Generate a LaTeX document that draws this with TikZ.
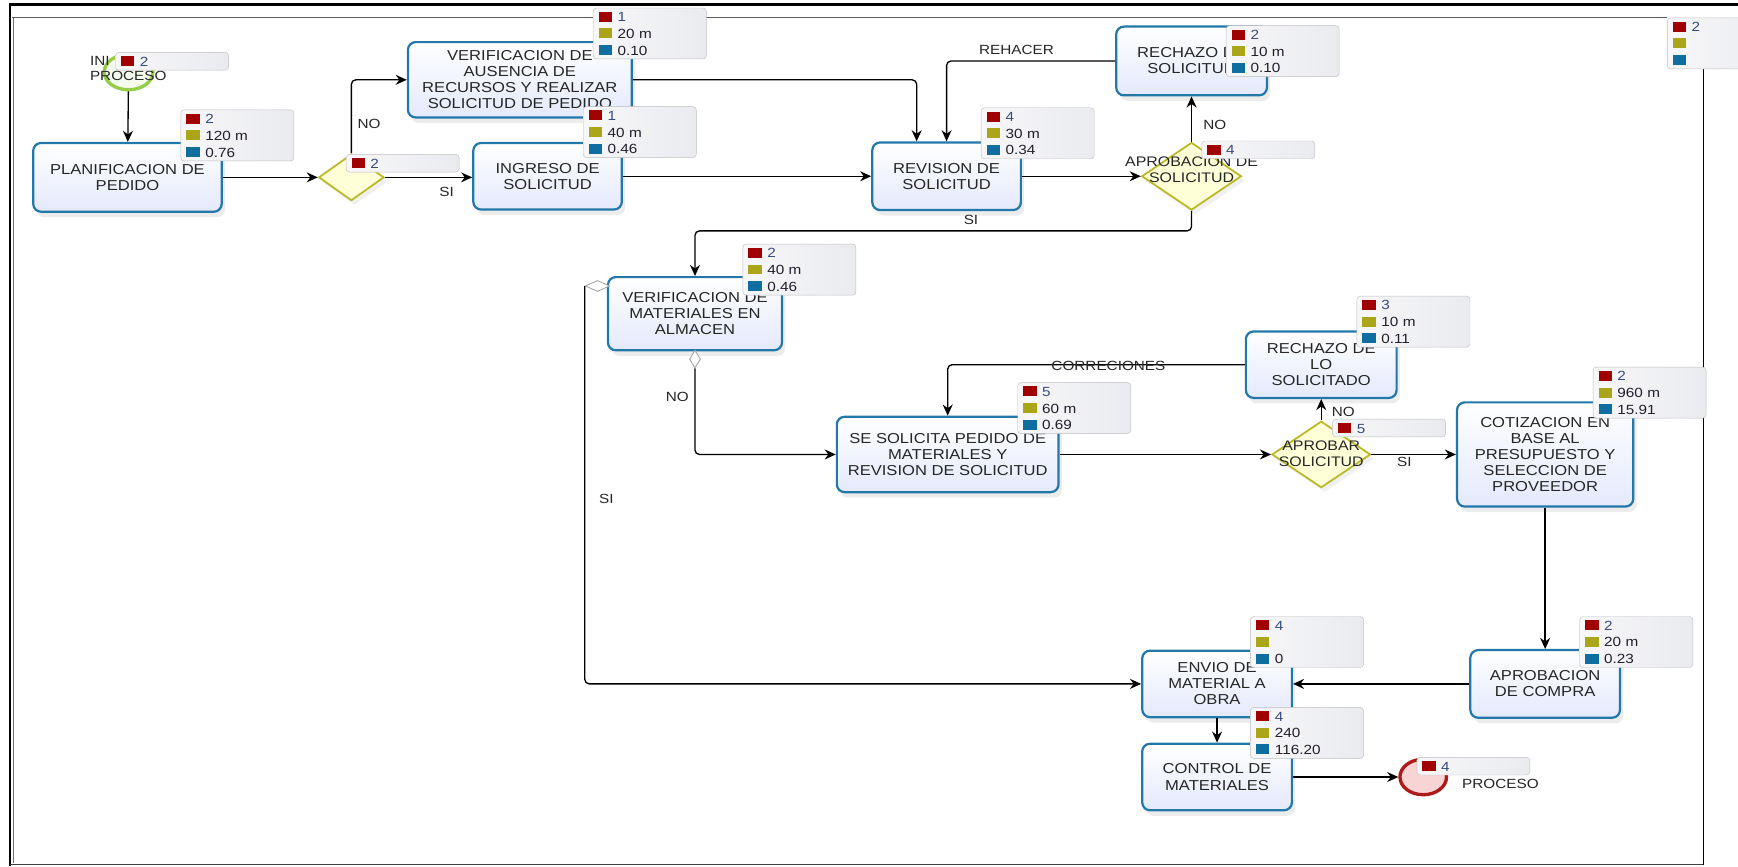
\documentclass[tikz,border=0pt]{standalone}
\usepackage{fontspec}
\setmainfont{Liberation Sans}[FakeStretch=1.15]
\usetikzlibrary{positioning, arrows.meta, shapes.geometric, shadows}

\definecolor{taskblue}{RGB}{35,120,170}
\definecolor{taskfill}{RGB}{228,233,252}
\definecolor{gateolive}{RGB}{185,185,40}
\definecolor{gatefill}{RGB}{255,255,215}
\definecolor{startgreen}{RGB}{150,205,70}
\definecolor{startfill}{RGB}{245,252,238}
\definecolor{endred}{RGB}{175,25,25}
\definecolor{endfill}{RGB}{248,212,212}
\definecolor{kred}{RGB}{160,0,0}
\definecolor{kolive}{RGB}{170,165,25}
\definecolor{kblue}{RGB}{15,110,160}
\definecolor{kpiborder}{RGB}{190,190,196}
\definecolor{kpileft}{RGB}{247,247,249}
\definecolor{kpiright}{RGB}{234,235,239}
\definecolor{kpinum}{RGB}{55,75,130}
\definecolor{kpitext}{RGB}{35,30,45}

% coloured squares of the KPI boxes
\newcommand{\kpisq}[1]{\textcolor{#1}{\rule{12pt}{9pt}}\hspace{5pt}}
\newcommand{\kpirows}[3]{\kpisq{kred}\textcolor{kpinum}{#1}\\\kpisq{kolive}#2\\\kpisq{kblue}#3}
\newcommand{\kpione}[1]{\kpisq{kred}\textcolor{kpinum}{#1}}

\begin{document}
\begin{tikzpicture}[
    x=1pt, y=-1pt,
    >={Stealth[length=10pt,width=9pt]},
    % Styles
    task/.style={% For activities
        rectangle,
        rounded corners=7pt,
        draw=taskblue,
        line width=2pt,
        top color=white,
        bottom color=taskfill,
        align=center,
        inner sep=2pt,
        text=black!85,
        font=\fontsize{13}{14.5}\selectfont,
        drop shadow={shadow xshift=3pt, shadow yshift=-5pt, opacity=.15},
    },
    gate/.style={% For decisions
        diamond,
        draw=gateolive,
        line width=1.6pt,
        fill=gatefill,
        inner sep=0pt,
        drop shadow={shadow xshift=3pt, shadow yshift=-4pt, opacity=.12},
    },
    condgate/.style={% Small white diamonds on flows
        diamond,
        draw=gray!70,
        line width=.8pt,
        fill=white,
        inner sep=0pt,
    },
    startev/.style={% Start event
        ellipse,
        draw=startgreen,
        line width=3pt,
        fill=startfill,
        minimum width=44pt,
        minimum height=32pt,
        inner sep=0pt,
    },
    endev/.style={% End event
        ellipse,
        draw=endred,
        line width=3pt,
        fill=endfill,
        minimum width=42pt,
        minimum height=32pt,
        inner sep=0pt,
    },
    kpibox/.style={% Grey boxes with indicators
        rectangle,
        rounded corners=3pt,
        draw=kpiborder,
        left color=kpileft,
        right color=kpiright,
        anchor=north west,
        align=left,
        text width=92pt,
        inner xsep=5pt,
        inner ysep=3pt,
        text=kpitext,
        font=\fontsize{12}{15}\selectfont,
    },
    lbl/.style={% Labels on flows and events
        font=\fontsize{12}{14}\selectfont,
        text=black!85,
        inner sep=0pt,
    },
    flow/.style={% Sequence flows
        ->,
        line width=1.2pt,
        rounded corners=4pt,
    },
    ]
    \useasboundingbox (0,0) rectangle (1568,782);
    \clip (0,0) rectangle (1568,782);

    % Frame
    \draw[line width=2.5pt] (9,4) -- (1568,4);
    \draw[line width=.9pt, black!65] (11,16) -- (1504,16);
    \draw[line width=2pt] (9,3) -- (9,781);
    \draw[line width=.7pt, black!55] (12,16) -- (12,779);
    \draw[line width=1.6pt, black!75] (9,780) -- (1537,780);
    \draw[line width=1.2pt] (1537,60) -- (1537,780);

    % Events
    \node[startev] (start) at (116,65) {};
    \node[lbl, anchor=west, align=left] (startlbl) at (81,62) {INI\\PROCESO};
    \node[endev] (fin) at (1284,701) {};
    \node[lbl, anchor=west] (finlbl) at (1319,707) {PROCESO};

    % Activities
    \node[task, minimum width=170pt, minimum height=62pt] (plan) at (115,160) {PLANIFICACION DE\\PEDIDO};
    \node[task, minimum width=202pt, minimum height=68pt] (verif) at (469,72) {VERIFICACION DE\\AUSENCIA DE\\RECURSOS Y REALIZAR\\SOLICITUD DE PEDIDO};
    \node[task, minimum width=134pt, minimum height=60pt] (ingreso) at (494,159) {INGRESO DE\\SOLICITUD};
    \node[task, minimum width=134pt, minimum height=61pt] (revision) at (854,159) {REVISION DE\\SOLICITUD};
    \node[task, minimum width=136pt, minimum height=62pt] (rechazo) at (1075,55) {RECHAZO DE\\SOLICITUD};
    \node[task, minimum width=157pt, minimum height=66pt] (vmat) at (627,283) {VERIFICACION DE\\MATERIALES EN\\ALMACEN};
    \node[task, minimum width=200pt, minimum height=68pt] (solped) at (855,410) {SE SOLICITA PEDIDO DE\\MATERIALES Y\\REVISION DE SOLICITUD};
    \node[task, minimum width=136pt, minimum height=60pt] (rechlo) at (1192,329) {RECHAZO DE\\LO\\SOLICITADO};
    \node[task, minimum width=159pt, minimum height=94pt] (cotiz) at (1394,410) {COTIZACION EN\\BASE AL\\PRESUPUESTO Y\\SELECCION DE\\PROVEEDOR};
    \node[task, minimum width=135pt, minimum height=61pt] (aprcomp) at (1394,617) {APROBACION\\DE COMPRA};
    \node[task, minimum width=135pt, minimum height=60pt] (envio) at (1098,617) {ENVIO DE\\MATERIAL A\\OBRA};
    \node[task, minimum width=135pt, minimum height=60pt] (control) at (1098,701) {CONTROL DE\\MATERIALES};

    % Decisions
    \node[gate, minimum width=59pt, minimum height=42pt] (gw1) at (317,160) {};
    \node[gate, minimum width=90pt, minimum height=61pt] (gw2) at (1075,159) {};
    \node[lbl, align=center, font=\fontsize{12.5}{14.5}\selectfont] (gw2lbl) at (1075,153) {APROBACION DE\\SOLICITUD};
    \node[gate, minimum width=89pt, minimum height=60pt] (gw3) at (1192,410) {};
    \node[lbl, align=center, font=\fontsize{12.5}{14.5}\selectfont] (gw3lbl) at (1192,409) {APROBAR\\SOLICITUD};
    \node[condgate, minimum width=22pt, minimum height=10pt] (mk1) at (539,258) {};
    \node[condgate, minimum width=10pt, minimum height=16pt] (mk2) at (627,324) {};

    % Flows
    \draw[flow] (start) -- (plan);
    \draw[flow] (plan) -- (gw1);
    \draw[flow] (gw1.north) |- (verif.west);
    \draw[flow] (gw1.east) -- (gw1.east -| ingreso.west);
    \draw[flow] (ingreso) -- (revision);
    \draw[flow] (verif.east) -| ([xshift=-27pt]revision.north);
    \draw[flow] (rechazo.west) -| (revision.north);
    \draw[flow] (revision) -- (gw2);
    \draw[flow] (gw2) -- (rechazo);
    \draw[flow] (gw2.south) -- ++(0,18) -| (vmat.north);
    \draw[flow] (mk1.west) |- (envio.west);
    \draw[flow] (mk2.south) |- (solped.west);
    \draw[flow] (rechlo.west) -| (solped.north);
    \draw[flow] (solped) -- (gw3);
    \draw[flow] (gw3) -- (rechlo);
    \draw[flow] (gw3) -- (cotiz);
    \draw[flow] (cotiz) -- (aprcomp);
    \draw[flow] (aprcomp) -- (envio);
    \draw[flow] (envio) -- (control);
    \draw[flow] (control) -- (fin);

    % Flow labels
    \node[lbl] (lno1) at (333,112) {NO};
    \node[lbl] (lsi1) at (403,173) {SI};
    \node[lbl] (lreh) at (917,45) {REHACER};
    \node[lbl] (lno2) at (1096,113) {NO};
    \node[lbl] (lsi2) at (876,198) {SI};
    \node[lbl] (lno3) at (611,358) {NO};
    \node[lbl] (lsi3) at (547,450) {SI};
    \node[lbl] (lcor) at (1000,330) {CORRECIONES};
    \node[lbl] (lno4) at (1212,372) {NO};
    \node[lbl] (lsi4) at (1267,417) {SI};

    % Indicator boxes
    \node[kpibox, minimum height=16pt] (kstart) at (104,47) {\kpione{2}};
    \node[kpibox, minimum height=46pt] (kplan) at (163,99) {\kpirows{2}{120 m}{0.76}};
    \node[kpibox, minimum height=16pt] (kgw1) at (312,139) {\kpione{2}};
    \node[kpibox, minimum height=46pt] (kverif) at (535,7) {\kpirows{1}{20 m}{0.10}};
    \node[kpibox, minimum height=46pt] (kingreso) at (526,96) {\kpirows{1}{40 m}{0.46}};
    \node[kpibox, minimum height=46pt] (krevision) at (885,97) {\kpirows{4}{30 m}{0.34}};
    \node[kpibox, minimum height=16pt] (kgw2) at (1084,127) {\kpione{4}};
    \node[kpibox, minimum height=46pt] (krechazo) at (1106,23) {\kpirows{2}{10 m}{0.10}};
    \node[kpibox, minimum height=46pt] (kvmat) at (670,220) {\kpirows{2}{40 m}{0.46}};
    \node[kpibox, minimum height=46pt] (ksolped) at (918,345) {\kpirows{5}{60 m}{0.69}};
    \node[kpibox, minimum height=46pt] (krechlo) at (1224,267) {\kpirows{3}{10 m}{0.11}};
    \node[kpibox, minimum height=16pt] (kgw3) at (1202,378) {\kpione{5}};
    \node[kpibox, minimum height=46pt] (kcotiz) at (1437,331) {\kpirows{2}{960 m}{15.91}};
    \node[kpibox, minimum height=46pt] (kaprcomp) at (1425,556) {\kpirows{2}{20 m}{0.23}};
    \node[kpibox, minimum height=46pt] (kenvio) at (1128,556) {\kpirows{4}{}{0}};
    \node[kpibox, minimum height=46pt] (kcontrol) at (1128,638) {\kpirows{4}{240}{116.20}};
    \node[kpibox, minimum height=16pt] (kfin) at (1278,683) {\kpione{4}};
    \node[kpibox, minimum height=46pt] (kpool) at (1504,16) {\kpirows{2}{}{}};

\end{tikzpicture}
\end{document}
